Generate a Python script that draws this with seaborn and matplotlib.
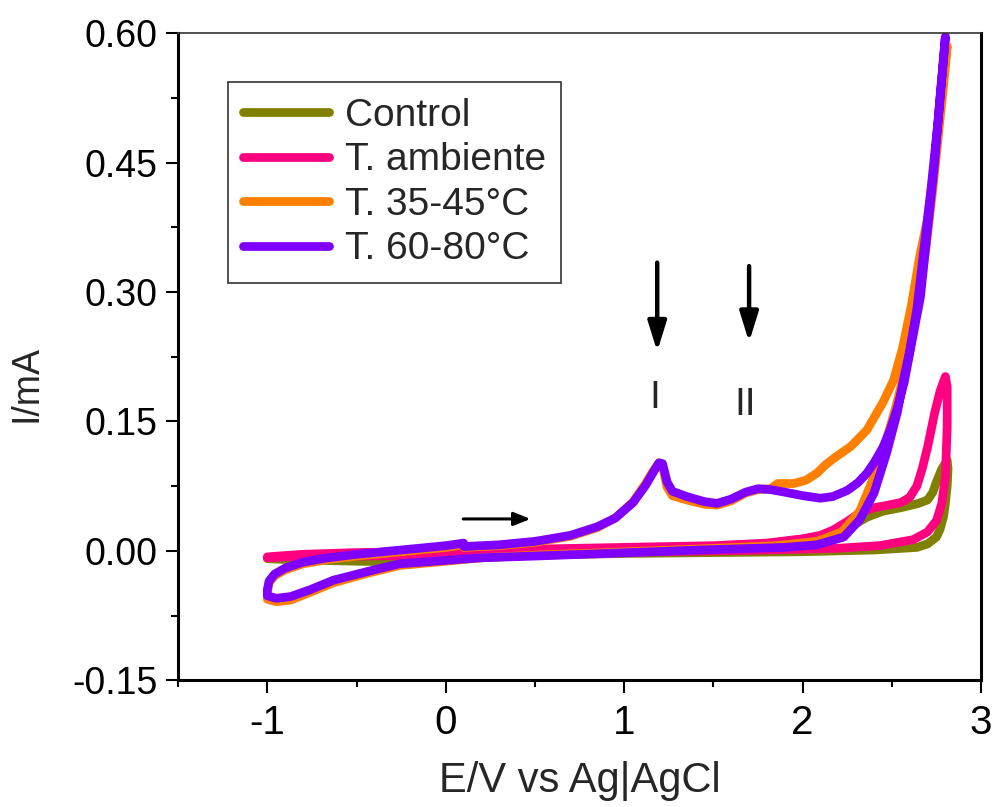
import numpy as np
import pandas as pd
import matplotlib
matplotlib.use("Agg")
import matplotlib.pyplot as plt
from matplotlib.ticker import FixedLocator, FormatStrFormatter
import seaborn as sns

# ---------------- data ----------------
series_names = ["Control", "T. ambiente", "T. 35-45°C", "T. 60-80°C"]
series_colors = ["#808000", "#FF0080", "#FF8000", "#8000FF"]

# T. 60-80°C : forward 0.1 -> 2.8, reverse 2.8 -> -1, forward -1 -> 0.1
p60_E = [0.10, 0.30, 0.50, 0.70, 0.85, 0.95, 1.05, 1.12, 1.16, 1.195,
         1.215, 1.24, 1.27, 1.35, 1.45, 1.52, 1.60, 1.68, 1.75, 1.82,
         1.90, 2.00, 2.10, 2.17, 2.25, 2.31, 2.36, 2.40, 2.45, 2.49,
         2.53, 2.57, 2.61, 2.66, 2.70, 2.74, 2.77, 2.80,
         2.79, 2.76, 2.72, 2.68, 2.64, 2.60, 2.565, 2.53, 2.47, 2.40,
         2.32, 2.23, 2.08, 1.90, 1.43, 0.90, 0.50, 0.20, 0.00, -0.26,
         -0.44, -0.63, -0.76, -0.87, -0.95, -1.00,
         -1.00, -0.99, -0.96, -0.90, -0.80, -0.66, -0.50, -0.35, -0.20, 0.00, 0.10]
p60_I = [0.005, 0.007, 0.011, 0.018, 0.028, 0.038, 0.056, 0.076, 0.090, 0.102,
         0.101, 0.080, 0.069, 0.063, 0.057, 0.055, 0.060, 0.068, 0.072, 0.071,
         0.068, 0.064, 0.061, 0.063, 0.070, 0.079, 0.090, 0.102, 0.120, 0.140,
         0.165, 0.196, 0.240, 0.294, 0.372, 0.450, 0.526, 0.596,
         0.570, 0.500, 0.420, 0.350, 0.280, 0.232, 0.198, 0.160, 0.113, 0.067,
         0.036, 0.016, 0.007, 0.004, 0.001, -0.003, -0.006, -0.008, -0.011, -0.015,
         -0.024, -0.034, -0.045, -0.053, -0.055, -0.052,
         -0.045, -0.035, -0.027, -0.020, -0.013, -0.008, -0.004, -0.001, 0.002, 0.006, 0.009]

# T. 35-45°C
p35_E = [0.10, 0.30, 0.50, 0.70, 0.85, 0.95, 1.05, 1.12, 1.16, 1.195,
         1.215, 1.24, 1.27, 1.35, 1.45, 1.52, 1.60, 1.68, 1.75, 1.82,
         1.86, 1.95, 2.02, 2.08, 2.13, 2.18, 2.27, 2.36, 2.45, 2.51,
         2.56, 2.61, 2.655, 2.70, 2.745, 2.775, 2.81,
         2.80, 2.77, 2.73, 2.69, 2.64, 2.60, 2.56, 2.52, 2.46, 2.40,
         2.32, 2.22, 2.08, 1.85, 1.40, 0.90, 0.50, 0.20, 0.00, -0.26,
         -0.44, -0.63, -0.76, -0.87, -0.95, -1.00,
         -1.00, -0.99, -0.96, -0.90, -0.80, -0.66, -0.50, -0.35, -0.20, 0.00, 0.10]
p35_I = [0.004, 0.006, 0.010, 0.017, 0.027, 0.038, 0.057, 0.078, 0.092, 0.102,
         0.098, 0.074, 0.064, 0.059, 0.054, 0.053, 0.058, 0.067, 0.071, 0.072,
         0.078, 0.078, 0.082, 0.090, 0.100, 0.108, 0.121, 0.140, 0.172, 0.198,
         0.235, 0.285, 0.340, 0.385, 0.460, 0.525, 0.585,
         0.560, 0.500, 0.420, 0.350, 0.280, 0.232, 0.198, 0.165, 0.122, 0.086,
         0.046, 0.022, 0.011, 0.006, 0.002, -0.002, -0.005, -0.008, -0.012, -0.017,
         -0.026, -0.037, -0.048, -0.057, -0.059, -0.056,
         -0.048, -0.037, -0.029, -0.022, -0.015, -0.010, -0.006, -0.003, 0.000, 0.004, 0.007]

# T. ambiente
amb_E = [0.10, 0.50, 1.00, 1.50, 1.80, 2.00, 2.10, 2.17, 2.25, 2.32,
         2.40, 2.48, 2.55, 2.60, 2.64, 2.67, 2.70, 2.74, 2.77, 2.80,
         2.81, 2.81, 2.80, 2.78, 2.75, 2.70, 2.62, 2.43, 2.20, 1.80,
         1.20, 0.50, 0.00, -0.50, -0.90, -1.00,
         -1.00, -0.80, -0.50, -0.20, 0.10]
amb_I = [0.000, 0.002, 0.004, 0.006, 0.009, 0.014, 0.018, 0.024, 0.034, 0.044,
         0.050, 0.053, 0.056, 0.062, 0.075, 0.095, 0.120, 0.160, 0.185, 0.202,
         0.190, 0.144, 0.086, 0.055, 0.035, 0.022, 0.013, 0.006, 0.003, 0.001,
         -0.001, -0.003, -0.005, -0.006, -0.007, -0.008,
         -0.007, -0.004, -0.002, -0.001, 0.000]

# Control
ctl_E = [0.10, 0.50, 1.00, 1.50, 2.00, 2.10, 2.17, 2.27, 2.36, 2.45,
         2.55, 2.65, 2.70, 2.73, 2.75, 2.78, 2.81,
         2.815, 2.81, 2.80, 2.79, 2.77, 2.75, 2.70, 2.64, 2.40, 2.00,
         1.50, 1.00, 0.50, 0.00, -0.20, -0.50, -0.90, -1.00,
         -1.00, -0.50, 0.00, 0.10]
ctl_I = [-0.002, 0.000, 0.001, 0.002, 0.006, 0.010, 0.016, 0.028, 0.039, 0.046,
         0.050, 0.055, 0.059, 0.068, 0.080, 0.095, 0.105,
         0.095, 0.075, 0.055, 0.040, 0.025, 0.016, 0.008, 0.004, 0.001, -0.001,
         -0.002, -0.003, -0.005, -0.010, -0.013, -0.012, -0.010, -0.009,
         -0.008, -0.005, -0.003, -0.002]

x_major = [-1, 0, 1, 2, 3]
y_major = [-0.15, 0.00, 0.15, 0.30, 0.45, 0.60]

# ---------------- build table ----------------
frames = []
for name, E, I in zip(series_names,
                      [ctl_E, amb_E, p35_E, p60_E],
                      [ctl_I, amb_I, p35_I, p60_I]):
    frames.append(pd.DataFrame({"E": E, "I": I, "series": name,
                                "step": np.arange(len(E))}))
df = pd.concat(frames, ignore_index=True)

# ---------------- plot ----------------
sns.set_theme(style="ticks")
plt.rcParams["font.family"] = ["Liberation Sans", "DejaVu Sans"]

fig = plt.figure(figsize=(9.95, 8.07), dpi=100)
ax = fig.add_axes([0.179, 0.157, 0.807, 0.802])

LW = 6.3
sns.lineplot(data=df, x="E", y="I", hue="series", hue_order=series_names,
             palette=dict(zip(series_names, series_colors)),
             sort=False, estimator=None, linewidth=LW, ax=ax,
             solid_capstyle="round", solid_joinstyle="round")

ax.set_xlim(-1.5, 3.0)
ax.set_ylim(-0.15, 0.60)
ax.xaxis.set_major_locator(FixedLocator(x_major))
ax.xaxis.set_minor_locator(FixedLocator([-1.5, -0.5, 0.5, 1.5, 2.5]))
ax.yaxis.set_major_locator(FixedLocator(y_major))
ax.yaxis.set_minor_locator(FixedLocator([-0.075, 0.075, 0.225, 0.375, 0.525]))
ax.yaxis.set_major_formatter(FormatStrFormatter("%.2f"))
ax.xaxis.set_major_formatter(FormatStrFormatter("%d"))

ax.tick_params(axis="both", which="major", direction="out", length=9, width=1.5,
               colors="black", pad=6)
ax.tick_params(axis="both", which="minor", direction="out", length=5, width=1.5,
               colors="black")
ax.tick_params(axis="y", which="major", labelsize=27)
ax.tick_params(axis="x", which="major", labelsize=29, pad=8)

for side in ["left", "bottom", "right"]:
    ax.spines[side].set_linewidth(2.2)
    ax.spines[side].set_color("black")
ax.spines["top"].set_linewidth(1.2)
ax.spines["top"].set_color("#333333")

ax.set_ylabel("I/mA", fontsize=27)
ax.yaxis.set_label_coords(-0.166, 0.459)
ax.set_xlabel("E/V vs Ag|AgCl", fontsize=30, labelpad=14)

# annotations
arrow_v = dict(arrowstyle="-|>,head_length=0.9,head_width=0.28", lw=3.2,
               color="black", mutation_scale=20, shrinkA=0, shrinkB=0)
ax.annotate("", xy=(1.185, 0.231), xytext=(1.185, 0.334), arrowprops=arrow_v)
ax.annotate("", xy=(1.70, 0.242), xytext=(1.70, 0.330), arrowprops=arrow_v)
arrow_h = dict(arrowstyle="-|>,head_length=0.5,head_width=0.2", lw=2.2,
               color="black", mutation_scale=20, shrinkA=0, shrinkB=0)
ax.annotate("", xy=(0.475, 0.037), xytext=(0.098, 0.037), arrowprops=arrow_h)
ax.text(1.17, 0.177, "I", fontsize=28, ha="center", va="center")
ax.text(1.68, 0.169, "II", fontsize=28, ha="center", va="center")

handles, labels = ax.get_legend_handles_labels()
for h in handles:
    h.set_linewidth(LW)
leg = ax.legend(handles, labels, loc="upper left", bbox_to_anchor=(0.062, 0.924),
                borderaxespad=0, fontsize=28, frameon=True, fancybox=False,
                edgecolor="black", handlelength=2.2, handletextpad=0.4,
                labelspacing=0.22, borderpad=0.4)
leg.get_frame().set_linewidth(1.2)

fig.savefig("out.png", dpi=100)
